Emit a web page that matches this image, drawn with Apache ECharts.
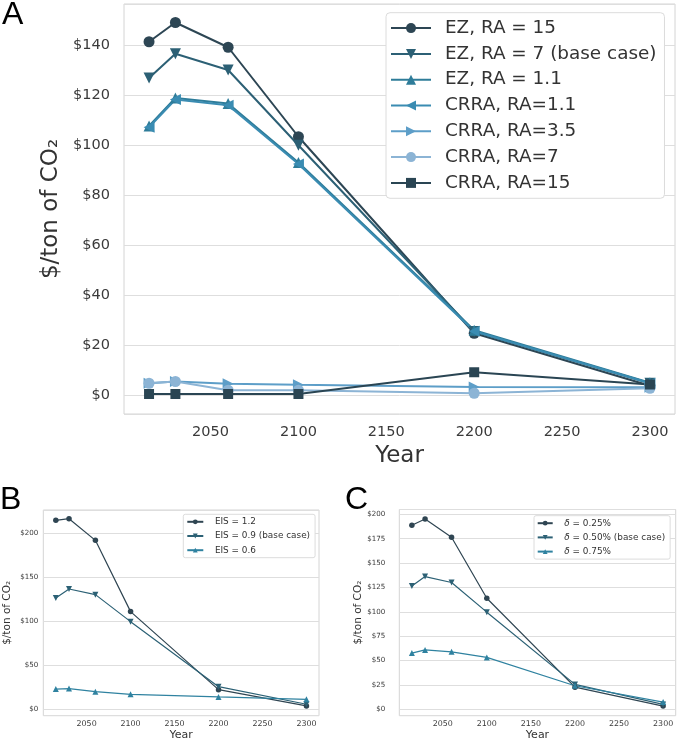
<!DOCTYPE html>
<html><head><meta charset="utf-8">
<script src="https://cdn.jsdelivr.net/npm/echarts@6/dist/echarts.min.js"></script>
<style>html,body{margin:0;padding:0;background:#fff}#c{width:677px;height:742px}</style>
</head><body><div id="c"></div>
<script>
// ---- data ----
const years = [2015, 2030, 2060, 2100, 2200, 2300];

const aNames = ['EZ, RA = 15', 'EZ, RA = 7 (base case)', 'EZ, RA = 1.1', 'CRRA, RA=1.1', 'CRRA, RA=3.5', 'CRRA, RA=7', 'CRRA, RA=15'];
const ezRa15   = [141.4, 149.1, 139.2, 103.4, 24.8, 3.8];
const ezRa7    = [126.9, 136.6, 130.1, 100.0, 25.5, 4.8];
const ezRa11   = [107.7, 118.9, 116.7, 93.1, 26.0, 5.0];
const crraRa11 = [107.2, 118.3, 116.0, 92.5, 25.6, 4.8];
const crraRa35 = [4.8, 5.5, 4.6, 4.2, 3.3, 3.2];
const crraRa7  = [4.8, 5.5, 2.0, 2.0, 0.8, 2.8];
const crraRa15 = [0.5, 0.5, 0.5, 0.5, 9.2, 4.3];

const bNames = ['EIS = 1.2', 'EIS = 0.9 (base case)', 'EIS = 0.6'];
const eis12 = [214.8, 216.6, 192.0, 111.0, 22.3, 3.8];
const eis09 = [126.5, 136.7, 130.3, 99.6, 25.7, 5.7];
const eis06 = [23.0, 23.5, 20.0, 17.0, 14.0, 11.3];

const cNames = ['δ = 0.25%', 'δ = 0.50% (base case)', 'δ = 0.75%'];
const delta025 = [188.8, 195.3, 176.5, 114.0, 22.8, 3.4];
const delta050 = [126.6, 136.2, 130.1, 99.7, 25.6, 5.1];
const delta075 = [57.7, 61.0, 59.0, 53.3, 24.2, 7.5];

const xTickStep = 50;
const yTickSteps = [20, 50, 25];
const panelLetters = ['A', 'B', 'C'];
const yTitle = '$/ton of CO₂';

// ---- styles ----
const FONT = 'DejaVu Sans';
const TXT = '#3a3a3a';
const colA = ['#2d4654', '#2c6075', '#2e7c99', '#3a8cb2', '#5d9ec8', '#8cb4d5', '#2a4553'];
const colBC = ['#2f4552', '#2c6175', '#2f82a0'];

const grids = [
  {left: 124, top: 4, width: 551, height: 410},
  {left: 43.3, top: 510, width: 275.7, height: 205.7},
  {left: 399.3, top: 509.5, width: 276.4, height: 206.2}
];
const xExt = [2000.75, 2314.25];
const yExt = [[-7.5, 156.5], [-7.3, 226.5], [-6.5, 205]];
const tickFont = [[14.5, 14.5], [7.9, 7.1], [7.9, 7.1]];   // [x, y]
const labelMargin = [[10.5, 14], [4.6, 5], [4.6, 14]];
const nameFont = [[23, 23], [11, 10.5], [11, 10.5]];
const nameGapX = [28.5, 14.3, 14.3];
const nameGapY = [61, 31, 31];

const option = {
  animation: false,
  backgroundColor: '#fff',
  grid: grids.map(g => Object.assign({show: true, borderColor: '#d4d4d4', borderWidth: 1, backgroundColor: '#fff', containLabel: false, outerBoundsMode: 'none'}, g)),
  xAxis: grids.map((g, i) => ({
    type: 'value', gridIndex: i, min: xExt[0], max: xExt[1],
    minInterval: xTickStep, maxInterval: xTickStep,
    axisLine: {show: false}, axisTick: {show: false}, splitLine: {show: false},
    axisLabel: {
      fontSize: tickFont[i][0], fontFamily: FONT, color: TXT, margin: labelMargin[i][0],
      formatter: v => (v % xTickStep === 0 && v > xExt[0] && v < xExt[1]) ? String(v) : ''
    },
    name: 'Year', nameLocation: 'middle', nameGap: nameGapX[i],
    nameTextStyle: {fontSize: nameFont[i][0], fontFamily: FONT, color: '#333'}
  })),
  yAxis: grids.map((g, i) => ({
    type: 'value', gridIndex: i, min: yExt[i][0], max: yExt[i][1],
    minInterval: yTickSteps[i], maxInterval: yTickSteps[i],
    axisLine: {show: false}, axisTick: {show: false},
    splitLine: {show: true, lineStyle: {color: '#dedede', width: 1}},
    axisLabel: {
      fontSize: tickFont[i][1], fontFamily: FONT, color: TXT, margin: labelMargin[i][1],
      formatter: v => (Math.abs(v % yTickSteps[i]) < 1e-9) ? '$' + v : ''
    },
    name: yTitle, nameLocation: 'middle', nameGap: nameGapY[i], nameRotate: 90,
    nameTextStyle: {fontSize: nameFont[i][1], fontFamily: FONT, color: '#333'}
  })),
  legend: [
    {
      data: aNames, orient: 'vertical', left: 386, top: 12.7,
      itemWidth: 40, itemHeight: 12.5, itemGap: 5, padding: [5, 8, 5, 4],
      backgroundColor: '#fff', borderColor: '#dcdcdc', borderWidth: 1, borderRadius: 4,
      textStyle: {fontSize: 18.4, lineHeight: 20.8, fontFamily: FONT, color: '#333', padding: [0, 0, 0, 9]}
    },
    {
      data: bNames, orient: 'vertical', left: 183.3, top: 514.3,
      itemWidth: 16, itemHeight: 6, itemGap: 4.2, padding: [2.5, 5, 2.5, 3],
      backgroundColor: '#fff', borderColor: '#dcdcdc', borderWidth: 1, borderRadius: 2,
      textStyle: {fontSize: 8.9, lineHeight: 10, fontFamily: FONT, color: '#333', padding: [0, 0, 0, 6.6]}
    },
    {
      data: cNames, orient: 'vertical', left: 534, top: 515.7,
      itemWidth: 15, itemHeight: 6, itemGap: 4.2, padding: [2.5, 5, 2.5, 2.7],
      backgroundColor: '#fff', borderColor: '#dcdcdc', borderWidth: 1, borderRadius: 2,
      formatter: n => n.replace('δ', '{i|δ}'),
      textStyle: {fontSize: 8.9, lineHeight: 10, fontFamily: FONT, color: '#333', padding: [0, 0, 0, 6.6],
        rich: {i: {fontSize: 8.9, fontFamily: FONT, fontStyle: 'italic', color: '#333'}}}
    }
  ],
  graphic: panelLetters.map((t, i) => ({
    type: 'text', left: [2, 0, 345][i], top: [-1, 484, 484][i],
    style: {text: t, fontSize: 32, fontFamily: 'Liberation Sans', fill: '#000'}
  })),
  series: []
};

function mk(name, vals, gi, color, symbol, rot, size, lw) {
  return {
    type: 'line', name, xAxisIndex: gi, yAxisIndex: gi,
    data: years.map((y, k) => [y, vals[k]]),
    symbol, symbolRotate: rot, symbolSize: size, showAllSymbol: true,
    lineStyle: {color, width: lw}, itemStyle: {color, borderWidth: 0},
    emphasis: {disabled: true}
  };
}

const aVals = [ezRa15, ezRa7, ezRa11, crraRa11, crraRa35, crraRa7, crraRa15];
const aSym = [['circle', 0, 11], ['triangle', 180, 11], ['triangle', 0, 11], ['triangle', 90, 11], ['triangle', -90, 11], ['circle', 0, 11], ['rect', 0, 10]];
aVals.forEach((v, k) => option.series.push(mk(aNames[k], v, 0, colA[k], aSym[k][0], aSym[k][1], aSym[k][2], 2)));

const bVals = [eis12, eis09, eis06];
const cVals = [delta025, delta050, delta075];
const bcSym = [['circle', 0, 5.5], ['triangle', 180, 6], ['triangle', 0, 6]];
bVals.forEach((v, k) => option.series.push(mk(bNames[k], v, 1, colBC[k], bcSym[k][0], bcSym[k][1], bcSym[k][2], 1.2)));
cVals.forEach((v, k) => option.series.push(mk(cNames[k], v, 2, colBC[k], bcSym[k][0], bcSym[k][1], bcSym[k][2], 1.2)));

const chart = echarts.init(document.getElementById('c'), null, {renderer: 'canvas'});
chart.setOption(option);
</script>
</body></html>
